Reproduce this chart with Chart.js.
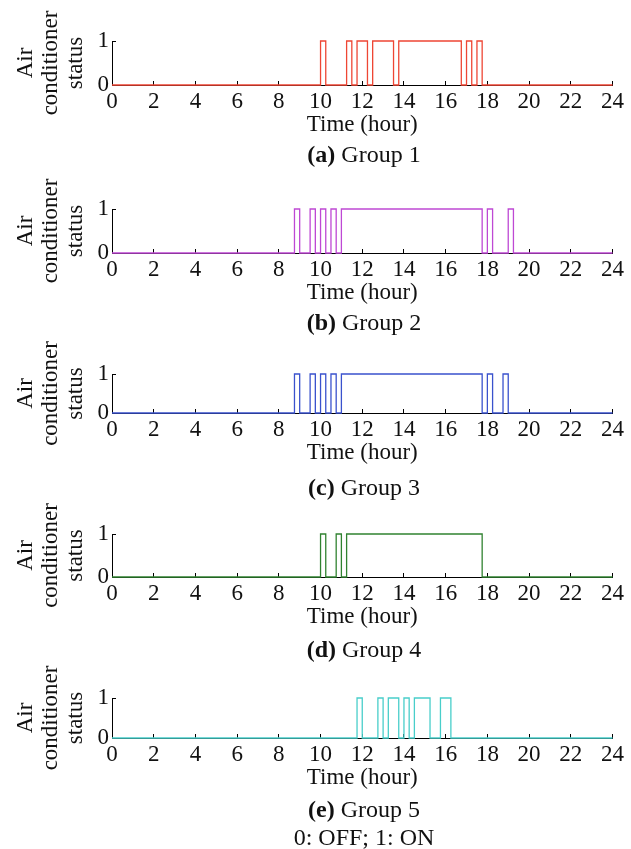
<!DOCTYPE html>
<html>
<head>
<meta charset="utf-8">
<script src="https://cdn.jsdelivr.net/npm/chart.js@4.4.1/dist/chart.umd.min.js"></script>
<style>
    body { margin: 0; background: #fff; }
    #page { position: relative; width: 631px; height: 849px; overflow: hidden; font-family: 'Liberation Serif', 'Times New Roman', serif; color: #111; }
    canvas { position: absolute; left: 0; }
    .caption { position: absolute; left: 112px; width: 504px; text-align: center; font-size: 24px; line-height: 26px; }
</style>
</head>
<body>
<div id="page"></div>
<script>
// --- Data: on/off switching times (hour) per group ---
const groupNames = ['Group 1', 'Group 2', 'Group 3', 'Group 4', 'Group 5'];
const groupLetters = ['a', 'b', 'c', 'd', 'e'];
const group1On  = [10, 11.25, 11.75, 12.5, 13.75, 17, 17.5];
const group1Off = [10.25, 11.5, 12.25, 13.5, 16.75, 17.25, 17.75];
const group2On  = [8.75, 9.5, 10, 10.5, 11, 18, 19];
const group2Off = [9, 9.75, 10.25, 10.75, 17.75, 18.25, 19.25];
const group3On  = [8.75, 9.5, 10, 10.5, 11, 18, 18.75];
const group3Off = [9, 9.75, 10.25, 10.75, 17.75, 18.25, 19];
const group4On  = [10, 10.75, 11.25];
const group4Off = [10.25, 11, 17.75];
const group5On  = [11.75, 12.75, 13.25, 14, 14.5, 15.75];
const group5Off = [12, 13, 13.75, 14.25, 15.25, 16.25];
const xMin = 0, xMax = 24, xStep = 2;
const statusTicks = [0, 1];

const onTimes = [group1On, group2On, group3On, group4On, group5On];
const offTimes = [group1Off, group2Off, group3Off, group4Off, group5Off];
const colors = ['rgb(238,70,52)', 'rgb(190,72,212)', 'rgb(58,82,205)', 'rgb(48,130,48)', 'rgb(72,206,202)'];

// layout: plot top / bottom (page px) for each panel
const plotTops = [41, 209, 374, 534, 698];
const plotBottoms = [85, 253, 413, 577, 738];
const captionCenters = [154, 322, 487, 649, 809];

function buildSteps(on, off) {
    const pts = [{ x: xMin, y: 0 }];
    on.forEach((t, i) => {
        pts.push({ x: t, y: 0 }, { x: t, y: 1 }, { x: off[i], y: 1 }, { x: off[i], y: 0 });
    });
    pts.push({ x: xMax, y: 0 });
    return pts;
}

const FONT = { family: "'Liberation Serif', 'Times New Roman', serif", size: 23 };
const PAD_TOP = 40;
const X_HEIGHT = 62;

function makePanel(idx) {
    const page = document.getElementById('page');
    const top = plotTops[idx] - PAD_TOP;
    const h = plotBottoms[idx] - plotTops[idx] + PAD_TOP + X_HEIGHT;
    const canvas = document.createElement('canvas');
    canvas.width = 631;
    canvas.height = h;
    canvas.style.top = top + 'px';
    page.appendChild(canvas);

    new Chart(canvas.getContext('2d'), {
        type: 'line',
        data: {
            datasets: [{
                data: buildSteps(onTimes[idx], offTimes[idx]),
                borderColor: colors[idx],
                borderWidth: 1.3,
                pointRadius: 0,
                tension: 0,
                clip: 4
            }]
        },
        options: {
            responsive: false,
            animation: false,
            layout: { padding: { top: PAD_TOP, right: 15, bottom: 0, left: 0 } },
            plugins: { legend: { display: false }, tooltip: { enabled: false } },
            scales: {
                x: {
                    type: 'linear', min: xMin, max: xMax,
                    afterFit: s => { s.height = X_HEIGHT; },
                    grid: { drawOnChartArea: false, tickLength: -4, color: '#000' },
                    border: { color: '#000', width: 1 },
                    ticks: { stepSize: xStep, color: '#111', font: FONT, padding: 7, maxRotation: 0 },
                    title: { display: true, text: 'Time (hour)', color: '#111', font: { ...FONT, lineHeight: 1.1 }, padding: { top: 0, bottom: 9 } }
                },
                y: {
                    min: statusTicks[0], max: statusTicks[statusTicks.length - 1],
                    afterFit: s => { s.width = 112; },
                    afterBuildTicks: s => { s.ticks = statusTicks.map(v => ({ value: v })); },
                    grid: { drawOnChartArea: false, tickLength: -4, color: '#000' },
                    border: { color: '#000', width: 1 },
                    ticks: { color: '#111', font: FONT, padding: 7 },
                    title: { display: true, text: ['Air', 'conditioner', 'status'], color: '#111', font: { ...FONT, lineHeight: 1.1 }, padding: { top: 13, bottom: 0 } }
                }
            }
        }
    });

    const cap = document.createElement('div');
    cap.className = 'caption';
    cap.style.top = (captionCenters[idx] - 13) + 'px';
    cap.innerHTML = `<b>(${groupLetters[idx]})</b> ${groupNames[idx]}`;
    page.appendChild(cap);
}

window.addEventListener('DOMContentLoaded', () => {
    groupNames.forEach((g, i) => makePanel(i));
    const note = document.createElement('div');
    note.className = 'caption';
    note.style.top = (837 - 13) + 'px';
    note.textContent = '0: OFF; 1: ON';
    document.getElementById('page').appendChild(note);
});
</script>
</body>
</html>
